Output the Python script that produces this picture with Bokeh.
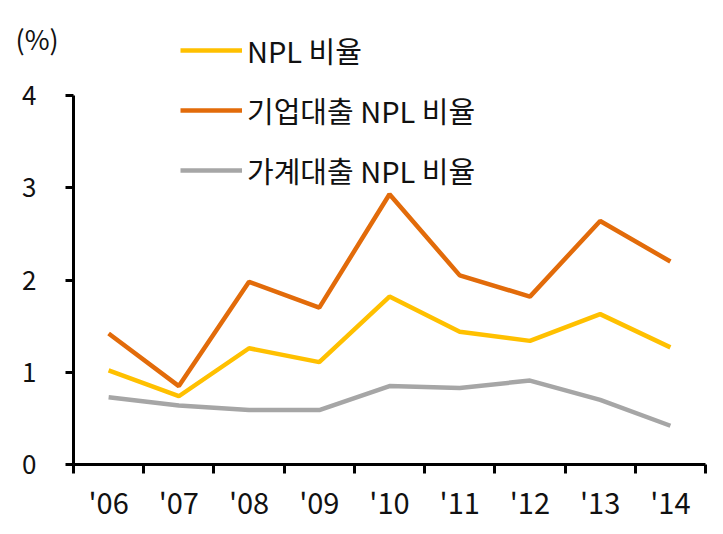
from bokeh.plotting import figure
from bokeh.models import FixedTicker, Legend, LegendItem, Label, Range1d, LinearAxis
from bokeh.embed import file_html
from bokeh.resources import INLINE

years = ["'06", "'07", "'08", "'09", "'10", "'11", "'12", "'13", "'14"]
npl_total = [1.02, 0.74, 1.26, 1.11, 1.82, 1.44, 1.34, 1.63, 1.27]
npl_corp = [1.42, 0.85, 1.98, 1.70, 2.93, 2.05, 1.82, 2.64, 2.20]
npl_house = [0.73, 0.64, 0.59, 0.59, 0.85, 0.83, 0.91, 0.70, 0.42]
series_names = ["NPL 비율", "기업대출 NPL 비율", "가계대출 NPL 비율"]
colors = ["#FFC000", "#E26B0A", "#A6A6A6"]
y_ticks = [0, 1, 2, 3, 4]

FONT = "Noto Sans CJK KR"

n = len(years)
xs = [i + 0.5 for i in range(n)]

# frame covers the whole canvas; axes are pinned with fixed_location
W, H = 715, 526
left_px, right_px, bottom_px, top_px = 73, 705, 464, 95
xppu = (right_px - left_px) / n
yppu = (bottom_px - top_px) / 4.0
x_range = Range1d(-left_px / xppu, n + (W - right_px) / xppu)
y_range = Range1d(-(H - bottom_px) / yppu, bottom_px / yppu)

p = figure(width=W, height=H, output_backend="svg", toolbar_location=None,
           x_range=x_range, y_range=y_range,
           x_axis_location=None, y_axis_location=None,
           min_border_left=0, min_border_right=0, min_border_top=0, min_border_bottom=0)
p.outline_line_color = None
p.grid.visible = False
p.background_fill_color = "white"
p.border_fill_color = "white"

renderers = []
for vals, c in zip([npl_total, npl_corp, npl_house], colors):
    r = p.line(xs, vals, line_color=c, line_width=4.5)
    renderers.append(r)

# x axis
xa = LinearAxis(fixed_location=0, bounds=(0, n))
xa.ticker = FixedTicker(ticks=xs, minor_ticks=list(range(n + 1)))
xa.major_label_overrides = {x: lab for x, lab in zip(xs, years)}
xa.major_tick_out = 0
xa.major_tick_in = 0
xa.minor_tick_out = 9
xa.minor_tick_in = 0
xa.minor_tick_line_width = 3
xa.minor_tick_line_color = "black"
xa.axis_line_width = 3
xa.axis_line_color = "black"
xa.major_label_text_font = FONT
xa.major_label_text_font_size = "29px"
xa.major_label_text_color = "#111111"
xa.major_label_standoff = 6
p.add_layout(xa, "below")

# y axis
ya = LinearAxis(fixed_location=0, bounds=(0, 4))
ya.ticker = FixedTicker(ticks=y_ticks, minor_ticks=[])
ya.major_tick_out = 8
ya.major_tick_in = 0
ya.major_tick_line_width = 3
ya.major_tick_line_color = "black"
ya.axis_line_width = 3
ya.axis_line_color = "black"
ya.major_label_text_font = FONT
ya.major_label_text_font_size = "26px"
ya.major_label_text_color = "#111111"
ya.major_label_standoff = 29
p.add_layout(ya, "left")

# unit label
p.add_layout(Label(x=15, y=H - 38, x_units="screen", y_units="screen", text="(%)",
                   text_font=FONT, text_font_size="27px", text_color="#111111",
                   text_baseline="middle", text_align="left"))

legend = Legend(items=[LegendItem(label=nm, renderers=[r]) for nm, r in zip(series_names, renderers)],
                location=(180, 335), orientation="vertical",
                glyph_width=62, glyph_height=40, label_height=40, label_standoff=5,
                spacing=18, padding=0, margin=0,
                border_line_color=None, background_fill_alpha=0,
                label_text_font=FONT, label_text_font_size="29px", label_text_color="#111111")
p.add_layout(legend)

open("out.html", "w").write(file_html(p, INLINE))
